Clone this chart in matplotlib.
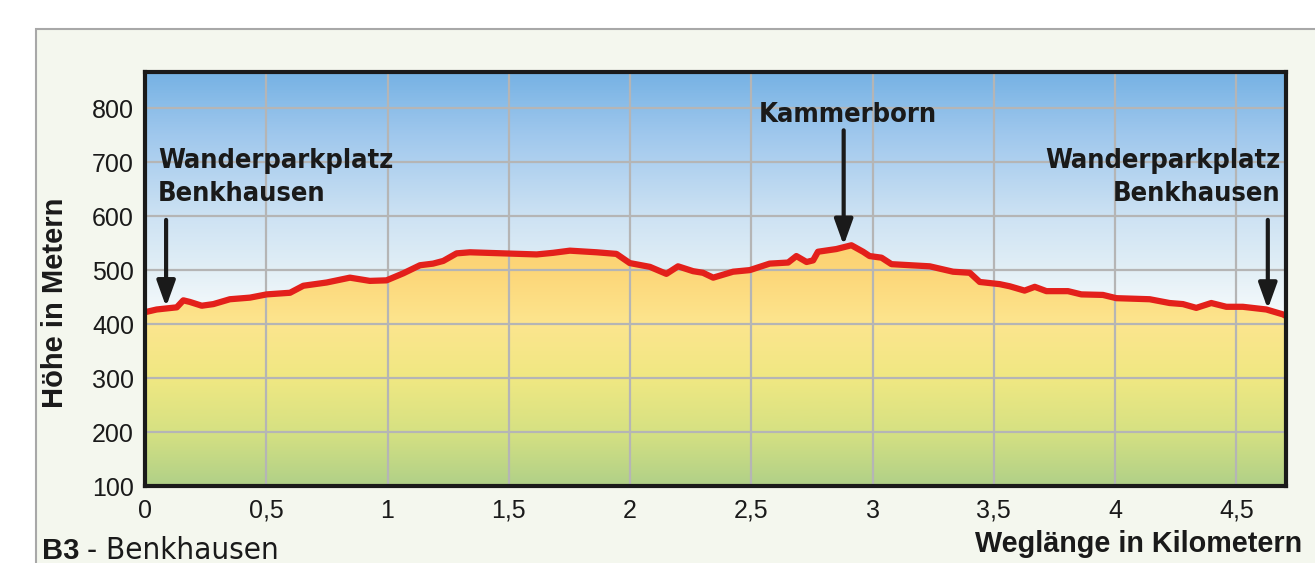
import numpy as np
import matplotlib.pyplot as plt
from matplotlib.colors import LinearSegmentedColormap
from matplotlib.patches import Rectangle

# Hoehenprofil B3 - Benkhausen
dist = [0, 0.048, 0.089, 0.131, 0.158, 0.185, 0.234, 0.282, 0.350, 0.433,
        0.502, 0.598, 0.653, 0.749, 0.845, 0.927, 0.996, 1.065, 1.134, 1.188,
        1.230, 1.285, 1.340, 1.477, 1.615, 1.683, 1.752, 1.862, 1.944, 1.999,
        2.082, 2.150, 2.198, 2.260, 2.301, 2.343, 2.425, 2.494, 2.576, 2.652,
        2.686, 2.728, 2.755, 2.775, 2.851, 2.913, 2.961, 2.988, 3.037, 3.078,
        3.236, 3.332, 3.401, 3.442, 3.524, 3.566, 3.627, 3.669, 3.717, 3.806,
        3.861, 3.950, 4.005, 4.143, 4.225, 4.280, 4.335, 4.397, 4.459, 4.527,
        4.624, 4.692, 4.705]
elev = [422, 427, 429, 431, 444, 441, 434, 437, 446, 449,
        455, 458, 471, 477, 486, 480, 481, 494, 509, 512,
        517, 531, 533, 531, 529, 532, 536, 533, 530, 513,
        506, 493, 507, 498, 495, 486, 497, 500, 512, 514,
        526, 515, 518, 534, 539, 546, 534, 526, 523, 511,
        507, 497, 495, 478, 474, 470, 462, 469, 461, 461,
        455, 454, 448, 446, 439, 437, 430, 439, 432, 432,
        427, 418, 415]

xticks = [0, 0.5, 1, 1.5, 2, 2.5, 3, 3.5, 4, 4.5]
xticklabels = ['0', '0,5', '1', '1,5', '2', '2,5', '3', '3,5', '4', '4,5']
yticks = [100, 200, 300, 400, 500, 600, 700, 800]

# wegpunkte: name, km, hoehe der pfeilspitze
places = ['Wanderparkplatz\nBenkhausen', 'Kammerborn', 'Wanderparkplatz\nBenkhausen']
place_km = [0.087, 2.881, 4.630]
place_elev = [432, 546, 428]

W, H = 1315, 563
XMAX, YMIN, YMAX = 4.705, 100, 867

narrow = dict(family='DejaVu Sans', fontstretch='condensed')
plt.rcParams['font.family'] = ['Liberation Sans', 'DejaVu Sans']

fig = plt.figure(figsize=(W / 100, H / 100), dpi=100)
fig.patch.set_facecolor('white')
fig.patches.append(Rectangle((36 / W, -0.1), 1.2, 1 - 29 / H + 0.1,
                             transform=fig.transFigure, facecolor='#f4f7ee',
                             edgecolor='#a8a8a8', linewidth=1.5, zorder=-1))

ax = fig.add_axes([145 / W, 1 - 486 / H, (1286 - 145) / W, (486 - 72) / H])
ax.set_xlim(0, XMAX)
ax.set_ylim(YMIN, YMAX)


def cmap_from(stops):
    return LinearSegmentedColormap.from_list(
        'c', [((e - YMIN) / (YMAX - YMIN), np.array(c) / 255) for e, c in stops])


sky = cmap_from([(100, (246, 250, 252)), (420, (245, 250, 252)),
                 (500, (226, 239, 246)), (600, (205, 226, 243)),
                 (750, (160, 200, 237)), (867, (118, 178, 228))])
ground = cmap_from([(100, (176, 208, 136)), (200, (214, 225, 130)),
                    (300, (240, 232, 130)), (400, (252, 229, 142)),
                    (500, (253, 214, 120)), (560, (252, 208, 112)),
                    (867, (252, 208, 112))])

grad = np.linspace(0, 1, 512).reshape(-1, 1)
ax.imshow(grad, cmap=sky, extent=[0, XMAX, YMIN, YMAX], origin='lower',
          aspect='auto', zorder=0)
poly = ax.fill_between(dist, elev, YMIN, facecolor='none', edgecolor='none')
im = ax.imshow(grad, cmap=ground, extent=[0, XMAX, YMIN, YMAX], origin='lower',
               aspect='auto', zorder=0.5)
im.set_clip_path(poly.get_paths()[0], transform=ax.transData)

ax.set_axisbelow(False)
ax.grid(True, color='#b5b5b5', lw=1.6)
ax.plot(dist, elev, color='#e3201b', lw=4.5, solid_joinstyle='round',
        solid_capstyle='round', zorder=4)

for s in ax.spines.values():
    s.set_linewidth(3)
    s.set_color('#1a1a1a')
    s.set_zorder(6)

ax.set_xticks(xticks)
ax.set_xticklabels(xticklabels)
ax.set_yticks(yticks)
ax.tick_params(length=0, labelsize=18, colors='#1a1a1a')
ax.tick_params(axis='x', pad=9)
ax.tick_params(axis='y', pad=8)

# pfeile und beschriftungen
arrow_top = [593, 759, 593]
for km, e, top in zip(place_km, place_elev, arrow_top):
    ax.annotate('', xy=(km, e), xytext=(km, top),
                arrowprops=dict(arrowstyle='-|>,head_length=1.0,head_width=0.36',
                                mutation_scale=15.5, lw=3, color='#1a1a1a',
                                shrinkA=0, shrinkB=0), zorder=5)

ax.text(0.054, 726, places[0], ha='left', va='top', fontsize=19.5,
        fontweight='bold', color='#1a1a1a', zorder=5, linespacing=1.33,
        **narrow)
ax.text(2.900, 775, places[1], ha='center', va='baseline', fontsize=19.5,
        fontweight='bold', color='#1a1a1a', zorder=5, **narrow)
ax.text(4.683, 726, places[2], ha='right', va='top', fontsize=19.5,
        fontweight='bold', color='#1a1a1a', zorder=5, linespacing=1.33,
        multialignment='right', **narrow)

fig.text(55 / W, 1 - 303 / H, 'Höhe in Metern', rotation=90, ha='center',
         va='center', fontsize=21, fontweight='bold', color='#1a1a1a')
fig.text(1302 / W, 1 - 552 / H, 'Weglänge in Kilometern', ha='right',
         va='baseline', fontsize=20.7, fontweight='bold', color='#1a1a1a')
fig.text(42 / W, 1 - 559 / H, 'B3', ha='left', va='baseline', fontsize=21,
         fontweight='bold', color='#1a1a1a')
fig.text(87 / W, 1 - 559 / H, '- Benkhausen', ha='left', va='baseline',
         fontsize=22.5, color='#1a1a1a', **narrow)

fig.savefig('out.png', dpi=100)
